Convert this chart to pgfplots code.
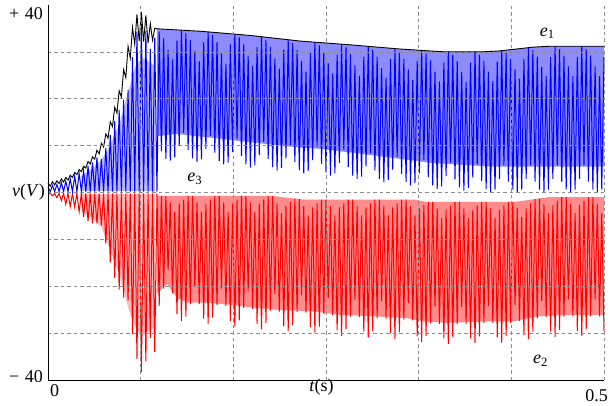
\documentclass[border=0pt]{standalone}
\usepackage{fontspec}
\setmainfont{Liberation Serif}
\usepackage{pgfplots}
\usepackage{pgfplotstable}
\pgfplotsset{compat=1.18}
\pgfplotstableread{
t b r
0 1.2 -0.4
2 0.2 -0.2
4 1.5 -0.7
6 0.2 -0.2
8 1.7 -1.1
10 0.2 -0.2
12 2.1 -1.7
14 0.2 -0.2
16 2.4 -2.5
18 0.2 -0.2
20 2.9 -3.0
22 0.2 -0.2
24 3.5 -3.1
26 0.2 -0.2
28 4.1 -4.1
30 0.2 -0.2
32 4.7 -5.2
34 0.2 -0.2
36 5.6 -6.1
38 0.2 -0.2
40 6.4 -6.6
42 0.2 -0.2
44 7.5 -6.6
46 0.2 -0.2
48 7.1 -7.0
50 0.2 -0.2
52 9.5 -10.9
54 0.2 -0.2
56 12.3 -14.9
58 0.2 -0.2
60 15.2 -18.2
62 0.2 -0.2
64 17.6 -20.7
66 0.2 -0.2
68 19.8 -22.4
70 0.2 -0.2
72 21.9 -23.0
74 0.2 -0.2
76 28.9 -30.2
78 0.2 -0.2
80 34.3 -35.5
82 0.2 -0.2
84 36.0 -38.3
86 0.2 -0.2
88 34.5 -36.0
90 0.2 -0.2
92 30.6 -31.0
94 0.2 -0.2
96 33.0 -34.0
98 0.2 -0.2
100 34.3 -24.2
102 8.8 -0.7
104 32.9 -20.5
106 7.2 -0.7
108 30.5 -16.5
110 6.8 -2.1
112 28.4 -21.5
114 7.5 -4.1
116 32.4 -25.9
118 9.9 -2.4
120 34.6 -27.4
122 12.7 -1.5
124 34.0 -26.5
126 9.1 -0.7
128 32.5 -23.8
130 7.3 -0.7
132 30.2 -20.2
134 6.6 -2.1
136 28.0 -23.8
138 7.1 -4.1
140 32.0 -26.9
142 9.3 -2.4
144 34.3 -28.0
146 12.1 -1.5
148 33.6 -26.7
150 8.5 -0.7
152 32.1 -24.0
154 6.7 -0.7
156 29.7 -20.5
158 6.0 -2.1
160 27.5 -24.2
162 6.4 -4.1
164 31.6 -27.4
166 8.6 -2.4
168 33.8 -28.6
170 11.4 -1.5
172 33.1 -27.3
174 7.8 -0.7
176 31.6 -24.6
178 6.0 -0.7
180 29.2 -21.1
182 5.3 -2.1
184 27.0 -24.8
186 5.8 -4.1
188 31.0 -28.0
190 8.0 -2.4
192 33.2 -29.2
194 10.8 -1.5
196 32.5 -27.9
198 7.2 -0.7
200 31.0 -25.2
202 5.4 -0.8
204 28.6 -21.7
206 4.7 -2.3
208 26.4 -25.4
210 5.2 -4.4
212 30.4 -28.5
214 7.3 -2.8
216 32.6 -29.6
218 10.1 -2.0
220 31.9 -28.3
222 6.5 -1.3
224 30.4 -25.5
226 4.8 -1.4
228 28.0 -21.9
230 4.1 -2.9
232 25.8 -25.6
234 4.6 -4.9
236 29.8 -28.7
238 6.9 -3.2
240 32.1 -29.9
242 9.7 -2.3
244 31.4 -28.6
246 6.1 -1.5
248 29.9 -25.9
250 4.3 -1.5
252 27.6 -22.5
254 3.6 -2.9
256 25.4 -26.2
258 4.1 -4.9
260 29.4 -29.4
262 6.3 -3.2
264 31.6 -30.6
266 9.1 -2.3
268 31.0 -29.2
270 5.4 -1.5
272 29.5 -26.5
274 3.6 -1.5
276 27.1 -22.9
278 2.9 -2.9
280 24.9 -26.6
282 3.4 -4.9
284 29.0 -29.7
286 5.6 -3.2
288 31.2 -30.9
290 8.4 -2.3
292 30.5 -29.5
294 4.7 -1.5
296 29.0 -26.8
298 2.9 -1.5
300 26.6 -23.2
302 2.2 -2.9
304 24.5 -26.9
306 2.7 -4.9
308 28.5 -30.0
310 4.9 -3.2
312 30.7 -31.2
314 7.6 -2.3
316 30.0 -29.8
318 4.0 -1.5
320 28.5 -27.1
322 2.2 -1.5
324 26.2 -23.6
326 1.5 -2.9
328 24.0 -27.3
330 2.0 -4.9
332 28.1 -30.7
334 4.1 -3.4
336 30.3 -31.9
338 6.9 -2.7
340 29.6 -30.6
342 3.3 -2.0
344 28.2 -27.9
346 1.5 -2.0
348 25.8 -24.3
350 0.8 -3.4
352 23.7 -28.0
354 1.3 -5.4
356 27.7 -31.1
358 3.5 -3.7
360 30.0 -32.3
362 6.4 -2.8
364 29.4 -30.9
366 2.8 -2.0
368 28.0 -28.1
370 1.1 -2.0
372 25.7 -24.4
374 0.4 -3.4
376 23.6 -28.0
378 1.0 -5.4
380 27.7 -31.1
382 3.2 -3.7
384 30.0 -32.1
386 6.0 -2.8
388 29.4 -30.7
390 2.5 -2.0
392 28.0 -27.8
394 0.7 -2.0
396 25.8 -24.2
398 0.1 -3.4
400 23.8 -27.8
402 0.6 -5.4
404 27.9 -30.9
406 2.9 -3.7
408 30.3 -32.0
410 5.8 -2.8
412 29.8 -30.6
414 2.3 -2.0
416 28.5 -27.8
418 0.6 -2.0
420 26.3 -24.0
422 0.0 -3.3
424 24.3 -27.4
426 0.6 -5.2
428 28.5 -30.4
430 2.9 -3.4
432 30.9 -31.3
434 5.8 -2.3
436 30.4 -29.7
438 2.3 -1.4
440 29.0 -26.8
442 0.6 -1.3
444 26.8 -23.1
446 0.0 -2.5
448 24.8 -26.6
450 0.6 -4.4
452 28.9 -29.7
454 2.9 -2.7
456 31.2 -30.8
458 5.8 -1.8
460 30.6 -29.3
462 2.3 -1.0
464 29.2 -26.5
466 0.6 -1.0
468 26.9 -22.8
470 0.0 -2.4
472 24.8 -26.4
474 0.6 -4.4
476 28.9 -29.5
478 2.9 -2.7
480 31.2 -30.6
482 5.8 -1.8
484 30.6 -29.2
486 2.3 -1.0
488 29.2 -26.4
490 0.6 -1.0
492 26.9 -22.8
494 0.0 -2.4
496 24.8 -26.4
498 0.6 -4.4
500 28.9 -29.5
}\sig
\begin{document}
\begin{tikzpicture}
\begin{axis}[
  scale only axis, width=556pt, height=375pt,
  xmin=0, xmax=500, ymin=-40, ymax=40,
  axis lines*=left,
  axis line style={-, line width=0.9pt, black},
  xtick={83.333,166.667,250,333.333,416.667,500},
  ytick={-30,-20,-10,0,10,20,30},
  xticklabel={\relax}, yticklabel={\relax},
  ticklabel style={opacity=0, text opacity=0},
  major tick length=0pt,
  grid=major,
  major grid style={black!45, line width=0.6pt, dash pattern=on 3.5pt off 3pt},
  axis on top, clip=false,
]
% light shading of the dense oscillation
\addplot[draw=none, fill=blue!28] coordinates {
(30,0.3) (30,3.5) (40,5.1) (48,7) (56,10) (64,14.5) (72,21.4) (78,26.4) (84,28.8) (90,28) (96,27) (96,0.3)};
\addplot[draw=none, fill=red!28] coordinates {
(30,-0.3) (30,-4) (40,-5.5) (48,-7.4) (56,-12.3) (64,-17.4) (72,-24.5) (78,-28.4) (84,-30.6) (90,-29.6) (96,-28.8) (96,-0.3)};
\addplot[draw=none, fill=blue!45] coordinates {
(98,34.9) (137,34.4) (182,33.5) (227,32.3) (272,31.5) (317,30.6) (357,30) (390,30) (406,30.2) (436,31) (451,31.2) (500,31.2)
(500,5.5) (400,5.5) (380,5.8) (345,6.3) (316,7.2) (290,8.0) (245,9.3) (217,9.8) (172,11.0) (143,11.8) (115,12.5) (98,12)};
\addplot[draw=none, fill=red!45] coordinates {
(98,-0.7) (200,-0.7) (230,-1.5) (330,-1.5) (340,-2) (420,-2) (450,-1) (500,-1)
(500,-26.1) (472,-26.1) (442,-26.4) (418,-27.5) (397,-27.5) (359,-27.8) (337,-27.5) (323,-26.8) (292,-26.4) (263,-26.1) (236,-25.3) (209,-25.1) (182,-24.5) (166,-24) (143,-23.5) (125,-23.5) (116,-22.5) (107,-19.5) (98,-21.5)};
\addplot[red, line width=1.0pt] table[x=t, y=r] {\sig};
\addplot[blue, line width=1.0pt] table[x=t, y=b] {\sig};
\addplot[black, line width=0.9pt] coordinates {
(0,2.0)(2,1.35)(4,2.3)(6,1.6)(8,2.5)(10,1.9)(12,2.9)(14,2.25)(16,3.2)(18,2.65)(20,3.7)(22,3.2)(24,4.3)(26,3.8)(28,4.9)(30,4.45)(32,5.6)(34,5.2)(36,6.6)(38,6.1)(40,7.6)(42,7.1)(44,9.0)(46,8.25)(48,10.5)(50,9.7)(52,12.5)(54,11.6)(56,15.1)(58,14.05)(60,18.2)(62,16.95)(64,21.7)(66,20.35)(68,26.2)(70,24.5)(72,31.2)(74,28.7)(76,35.2)(78,31.6)(80,38.0)(82,32.3)(84,38.5)(86,32.2)(88,37.8)(90,31.9)(92,36.0)(94,32.5)(96,35.0)(100,34.9)(137,34.4)(182,33.5)(227,32.3)(272,31.5)(317,30.6)(357,30)(390,30)(406,30.2)(436,31)(451,31.2)(500,31.2)};
\begin{scope}[every node/.style={inner sep=0pt, font=\fontsize{18}{21}\selectfont}]
\node[anchor=east] at ([xshift=-5pt]axis cs:0,38.2) {+\hspace{0.3em}40};
\node[anchor=east] at ([xshift=-5pt]axis cs:0,-39.2) {−\hspace{0.3em}40};
\node[anchor=east] at ([xshift=-3pt]axis cs:0,0) {\textit{v}(\textit{V})};
\node[anchor=west] at ([xshift=2pt,yshift=-11pt]axis cs:0,-40) {0};
\node[anchor=east] at ([xshift=4pt,yshift=-16pt]axis cs:500,-40) {0.5};
\node[anchor=center] at ([yshift=-7pt]axis cs:246,-40) {\textit{t}(s)};
\node[anchor=base] at (axis cs:449,33.3) {\textit{e}\textsubscript{1}};
\node[anchor=base] at (axis cs:443,-36.5) {\textit{e}\textsubscript{2}};
\node[anchor=base] at (axis cs:132,2.3) {\textit{e}\textsubscript{3}};
\end{scope}
\end{axis}
\pgfresetboundingbox
\path (current axis.south west) ++(-48pt,-25pt) rectangle ++(610pt,405pt);
\end{tikzpicture}
\end{document}
